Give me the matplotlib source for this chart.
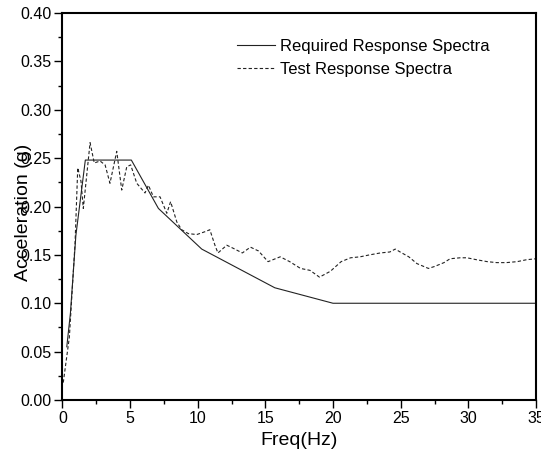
import matplotlib.pyplot as plt
from matplotlib.ticker import MultipleLocator, FormatStrFormatter

plt.rcParams["font.family"] = ["Liberation Sans", "DejaVu Sans"]

# required response spectra (solid)
rrs_freq = [0.33, 0.6, 1.0, 1.7, 5.1, 7.1, 10.3, 15.7, 20.0, 35.0]
rrs_acc = [0.055, 0.09, 0.17, 0.248, 0.248, 0.198, 0.156, 0.116, 0.100, 0.100]

# test response spectra (dashed)
trs_freq = [0.07, 0.52, 0.94, 1.14, 1.38, 1.55, 2.05, 2.36, 2.79, 3.16,
            3.52, 4.02, 4.39, 4.76, 5.05, 5.5, 6.11, 6.36, 6.73, 7.22,
            7.72, 8.0, 8.46, 8.82, 9.31, 9.93, 10.55, 10.9, 11.3, 11.5,
            12.15, 12.6, 13.3, 13.9, 14.5, 15.2, 16.1, 16.8, 17.6, 18.3,
            19.0, 19.8, 20.6, 21.3, 22.0, 22.7, 23.5, 24.2, 24.6, 24.96,
            25.6, 26.2, 27.05, 27.5, 28.2, 28.65, 29.4, 29.9, 30.6, 31.4,
            32.1, 32.8, 33.6, 34.3, 35.0]
trs_acc = [0.018, 0.065, 0.162, 0.240, 0.226, 0.198, 0.266, 0.245, 0.247, 0.243,
           0.224, 0.257, 0.217, 0.241, 0.243, 0.224, 0.214, 0.222, 0.210, 0.210,
           0.193, 0.205, 0.184, 0.176, 0.172, 0.171, 0.174, 0.176, 0.159, 0.152,
           0.160, 0.157, 0.152, 0.158, 0.154, 0.143, 0.148, 0.143, 0.136, 0.134,
           0.127, 0.133, 0.143, 0.147, 0.148, 0.150, 0.152, 0.153, 0.156, 0.153,
           0.148, 0.141, 0.136, 0.138, 0.142, 0.146, 0.147, 0.147, 0.145, 0.143,
           0.142, 0.142, 0.143, 0.145, 0.146]

fig = plt.figure(figsize=(5.41, 4.61), dpi=100)
ax = fig.add_axes([0.1152, 0.1323, 0.8756, 0.8395])

ax.plot(rrs_freq, rrs_acc, color="#222222", lw=0.8, label="Required Response Spectra")
ax.plot(trs_freq, trs_acc, color="#222222", lw=0.8, dashes=(3, 2),
        label="Test Response Spectra")

ax.set_xlim(0, 35)
ax.set_ylim(0, 0.40)
ax.xaxis.set_major_locator(MultipleLocator(5))
ax.xaxis.set_minor_locator(MultipleLocator(2.5))
ax.yaxis.set_major_locator(MultipleLocator(0.05))
ax.yaxis.set_minor_locator(MultipleLocator(0.025))
ax.yaxis.set_major_formatter(FormatStrFormatter("%.2f"))

ax.tick_params(which="major", direction="out", length=6, width=1, labelsize=11.5, pad=2)
ax.tick_params(which="minor", direction="out", length=3, width=1)
ax.tick_params(top=False, right=False, which="both")

for side in ["left", "bottom", "right", "top"]:
    ax.spines[side].set_linewidth(1.5)

ax.set_xlabel("Freq(Hz)", fontsize=14, labelpad=4)
ax.set_ylabel("Acceleration (g)", fontsize=14)
ax.yaxis.set_label_coords(-0.064, 0.486)

ax.legend(loc="upper left", bbox_to_anchor=(0.369, 0.933), frameon=False,
          fontsize=12, borderpad=0, borderaxespad=0, handlelength=2.3,
          handletextpad=0.3, labelspacing=0.5)

fig.savefig("out.png", dpi=100)
